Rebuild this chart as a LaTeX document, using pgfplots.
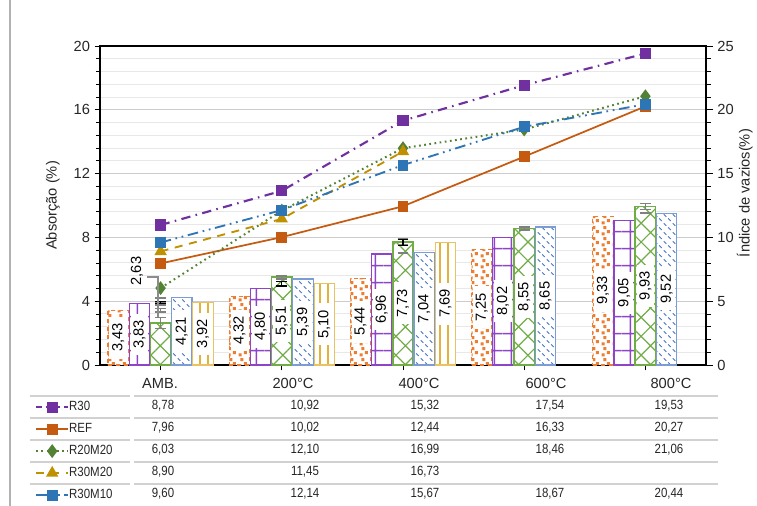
\documentclass[border=0pt]{standalone}
\usepackage{fontspec}
\setmainfont{Liberation Sans}
\newfontfamily\narrowfont[FakeStretch=0.86]{Liberation Sans}
\usepackage{pgfplots}
\pgfplotsset{compat=1.18}
\usetikzlibrary{patterns,patterns.meta}

\definecolor{cOrange}{HTML}{ED7D31}
\definecolor{cOrangeL}{HTML}{C55A11}
\definecolor{cPurple}{HTML}{7030A0}
\definecolor{cPurpleB}{HTML}{8E44C8}
\definecolor{cGreen}{HTML}{70AD47}
\definecolor{cGreenL}{HTML}{548235}
\definecolor{cBlue}{HTML}{4472C4}
\definecolor{cBlueL}{HTML}{2E75B6}
\definecolor{cGold}{HTML}{E2B33C}
\definecolor{cGoldL}{HTML}{BF9000}

\pgfdeclarepattern{
  name=confetti, type=uncolored,
  bottom left={\pgfpointorigin}, top right={\pgfpoint{8pt}{8pt}},
  tile size={\pgfpoint{8pt}{8pt}},
  code={
    \pgfpathrectangle{\pgfpoint{0.5pt}{0.5pt}}{\pgfpoint{2.3pt}{2.3pt}}
    \pgfpathrectangle{\pgfpoint{4.6pt}{2.2pt}}{\pgfpoint{2.3pt}{2.3pt}}
    \pgfpathrectangle{\pgfpoint{1.8pt}{5.2pt}}{\pgfpoint{2.3pt}{2.3pt}}
    \pgfusepath{fill}
  }
}
\pgfdeclarepattern{
  name=bluedash, type=uncolored,
  bottom left={\pgfpointorigin}, top right={\pgfpoint{7pt}{7pt}},
  tile size={\pgfpoint{7pt}{7pt}},
  code={
    \pgfsetlinewidth{0.8pt}
    \pgfpathmoveto{\pgfpoint{0.6pt}{6.2pt}}\pgfpathlineto{\pgfpoint{2.6pt}{4.2pt}}
    \pgfpathmoveto{\pgfpoint{4.2pt}{2.8pt}}\pgfpathlineto{\pgfpoint{6.2pt}{0.8pt}}
    \pgfusepath{stroke}
  }
}

\pgfplotsset{
  /pgf/number format/assume math mode=true,
  barlabel/.style={
    visualization depends on=y \as \rawy,
    nodes near coords={\pgfmathprintnumber[fixed,fixed zerofill,precision=2,use comma]{\pgfplotspointmeta}},
    every node near coord/.append style={shift={(axis direction cs:#1,-\rawy/2)}, rotate=90, anchor=center,
      fill=white, text=black, inner xsep=5pt, inner ysep=2pt, solid,
      font=\fontsize{11}{13}\selectfont},
  },
  errs/.style={
    error bars/.cd, y dir=both, y explicit,
    error bar style={color=#1, line width=1pt, solid},
    error mark options={rotate=90, mark size=4pt, line width=1pt, color=#1, solid},
  },
}

\begin{document}
\begin{tikzpicture}
\begin{axis}[
  name=main,
  scale only axis, width=454.5pt, height=239.25pt,
  xmin=-0.5, xmax=4.5, ymin=0, ymax=20,
  xtick={0,1,2,3,4}, xticklabels={}, xtick pos=bottom,
  ytick={0,4,...,20}, minor y tick num=4, ytick pos=left,
  tick align=outside,
  major tick length=4pt, minor tick length=3pt,
  every tick/.style={black, line width=0.6pt},
  axis line style={black, line width=0.9pt},
  ymajorgrids, yminorgrids,
  major grid style={draw=black!20, line width=0.8pt},
  minor grid style={draw=black!9, line width=0.8pt},
  tick label style={font=\fontsize{11}{13}\selectfont, text=black!85},
  ylabel={Absorção (\%)},
  ylabel style={at={(axis description cs:-0.0776,0.5)}, anchor=center, font=\fontsize{11}{13}\selectfont, text=black!85},
  clip=false,
]
% REF bars
\addplot[ybar, bar width=0.168, bar shift=-0.35, draw=cOrange, dashed, line width=0.8pt, fill=white,
  postaction={pattern=confetti, pattern color=cOrange}, barlabel=-0.35, errs=gray]
  coordinates {(0,3.43) +- (0,0.10) (1,4.32) +- (0,0.08) (2,5.44) +- (0,0.07) (3,7.25) +- (0,0.22) (4,9.33) +- (0,0.10)};
% R30 bars
\addplot[ybar, bar width=0.168, bar shift=-0.175, draw=cPurpleB, line width=0.8pt, fill=white,
  postaction={pattern={Hatch[angle=0,distance=13pt,line width=1.3pt]}, pattern color=cPurpleB}, barlabel=-0.175, errs=gray]
  coordinates {(0,3.83) +- (0,0.06) (1,4.80) +- (0,0.02) (2,6.96) +- (0,0.02) (3,8.02) +- (0,0.02) (4,9.05) +- (0,0.02)};
% R20M20 bars
\addplot[ybar, bar width=0.168, bar shift=0, draw=cGreen, line width=1.2pt, fill=white,
  postaction={pattern={Hatch[angle=45,distance=10pt,line width=0.9pt]}, pattern color=cGreen}, errs=gray]
  coordinates {(0,2.63) +- (0,0.35) (1,5.51) +- (0,0.08) (2,7.73) +- (0,0.17) (3,8.55) +- (0,0.08) (4,9.93) +- (0,0.20)};
\addplot[ybar, bar width=0.168, bar shift=0, draw=none, fill=none, barlabel=0]
  coordinates {(1,5.51) (2,7.73) (3,8.55) (4,9.93)};
% R30M10 bars
\addplot[ybar, bar width=0.168, bar shift=0.175, draw=cBlue!70, line width=0.8pt, fill=white,
  postaction={pattern=bluedash, pattern color=cBlue}, barlabel=0.175, errs=gray]
  coordinates {(0,4.21) +- (0,0.03) (1,5.39) +- (0,0.03) (2,7.04) +- (0,0.02) (3,8.65) +- (0,0.03) (4,9.52) +- (0,0.02)};
% R30M20 bars
\addplot[ybar, bar width=0.168, bar shift=0.35, draw=cGold!80, line width=0.8pt, fill=white,
  postaction={pattern={Lines[angle=90,distance=6pt,line width=1.5pt]}, pattern color=cGold}, barlabel=0.35, errs=black]
  coordinates {(0,3.92) +- (0,0.05) (1,5.10) +- (0,0.15) (2,7.69) +- (0,0.18)};
% R30 line (plotted against left axis)
\addplot[color=cPurple, line width=1.6pt, dash pattern=on 7pt off 4pt on 1.2pt off 4pt,
  mark=square*, mark size=3.4pt, mark options={solid, fill=cPurple}]
  coordinates {(0,8.78) (1,10.92) (2,15.32) (3,17.54) (4,19.53)};
\end{axis}

\begin{axis}[
  scale only axis, width=454.5pt, height=239.25pt,
  xmin=-0.5, xmax=4.5, ymin=0, ymax=25,
  axis x line=none, axis y line*=right,
  ytick={0,5,...,25}, minor y tick num=4,
  tick align=outside,
  major tick length=5pt, minor tick length=3.5pt,
  every tick/.style={black, line width=0.6pt},
  axis line style={black, line width=0.9pt},
  tick label style={font=\fontsize{11}{13}\selectfont, text=black!85},
  ylabel={Índice de vazios(\%)},
  ylabel style={at={(axis description cs:1.064,0.539)}, anchor=center, rotate=0, font=\fontsize{11}{13}\selectfont, text=black!85},
  clip=false,
  legend style={at={(axis description cs:-0.114,-0.104)}, anchor=north west, draw=none, fill=none,
    font=\narrowfont\fontsize{10}{12}\selectfont, text=black!85, row sep=7.5pt,
    nodes={inner sep=0pt, text height=7pt, text depth=2pt}},
  legend cell align=left,
  legend image code/.code={\draw[mark repeat=2,mark phase=2] plot coordinates {(0cm,0cm)(0.42cm,0cm)(0.84cm,0cm)};},
]
\addlegendimage{color=cPurple, line width=1.6pt, dash pattern=on 4pt off 3pt, mark=square*, mark size=3.4pt, mark options={solid, fill=cPurple}}
\addlegendentry{R30}
\addplot[color=cOrangeL, line width=1.3pt, mark=square*, mark size=3.4pt, mark options={solid, fill=cOrangeL}]
  coordinates {(0,7.96) (1,10.02) (2,12.44) (3,16.33) (4,20.27)};
\addlegendentry{REF}
\addplot[color=cGreenL, line width=1.5pt, dash pattern=on 1.3pt off 2.6pt,
  mark=diamond*, mark size=4pt, mark options={solid, fill=cGreenL}]
  coordinates {(0,6.03) (1,12.10) (2,16.99) (3,18.46) (4,21.06)};
\addlegendentry{R20M20}
\addplot[color=cGoldL, line width=1.4pt, dash pattern=on 6pt off 5pt,
  mark=triangle*, mark size=4pt, mark options={solid, fill=cGoldL}]
  coordinates {(0,8.90) (1,11.45) (2,16.73)};
\addlegendentry{R30M20}
\addplot[color=cBlueL, line width=1.4pt, dash pattern=on 8pt off 3.5pt on 1.3pt off 3.5pt on 1.3pt off 3.5pt,
  mark=square*, mark size=3.4pt, mark options={solid, fill=cBlueL}]
  coordinates {(0,9.60) (1,12.14) (2,15.67) (3,18.67) (4,20.44)};
\addlegendentry{R30M10}
\end{axis}

\begin{scope}[shift={(main.south west)}]
\begin{scope}[x=0.75pt, y=-0.75pt, shift={(-100,-365)}]
  % chart border
  \draw[black!30, line width=1.5pt] (10,0) -- (10,506);
  % label with leader line for 2,63
  \node[rotate=90, font=\fontsize{11}{13}\selectfont, text=black] at (137,271) {2,63};
  \draw[black!45, line width=0.8pt] (147,277) -- (158,277) -- (158,317);
  % data table
  \foreach \yy in {396,418,440,462,484}{
    \draw[black!18, line width=0.8pt] (30,\yy) -- (130,\yy);
    \draw[black!18, line width=0.8pt] (134,\yy) -- (718,\yy);
  }
  \begin{scope}[every node/.style={font=\fontsize{11}{13}\selectfont, text=black!85, inner sep=0pt}]
    \node at (160,383) {AMB.};
    \node at (293,383) {200°C};
    \node at (419,383) {400°C};
    \node at (546,383) {600°C};
    \node at (671,383) {800°C};
  \end{scope}
  \begin{scope}[every node/.style={font=\narrowfont\fontsize{10}{12}\selectfont, text=black!85, inner sep=0pt}]
    \node at (163,406) {8,78};  \node at (305,406) {10,92}; \node at (425,406) {15,32}; \node at (550,406) {17,54}; \node at (669,406) {19,53};
    \node at (163,428) {7,96};  \node at (305,428) {10,02}; \node at (425,428) {12,44}; \node at (550,428) {16,33}; \node at (669,428) {20,27};
    \node at (163,450) {6,03};  \node at (305,450) {12,10}; \node at (425,450) {16,99}; \node at (550,450) {18,46}; \node at (669,450) {21,06};
    \node at (163,472) {8,90};  \node at (305,472) {11,45}; \node at (425,472) {16,73};
    \node at (163,494) {9,60};  \node at (305,494) {12,14}; \node at (425,494) {15,67}; \node at (550,494) {18,67}; \node at (669,494) {20,44};
  \end{scope}
  \pgfresetboundingbox
  \useasboundingbox (0,0) rectangle (757,506);
\end{scope}
\end{scope}
\end{tikzpicture}
\end{document}
